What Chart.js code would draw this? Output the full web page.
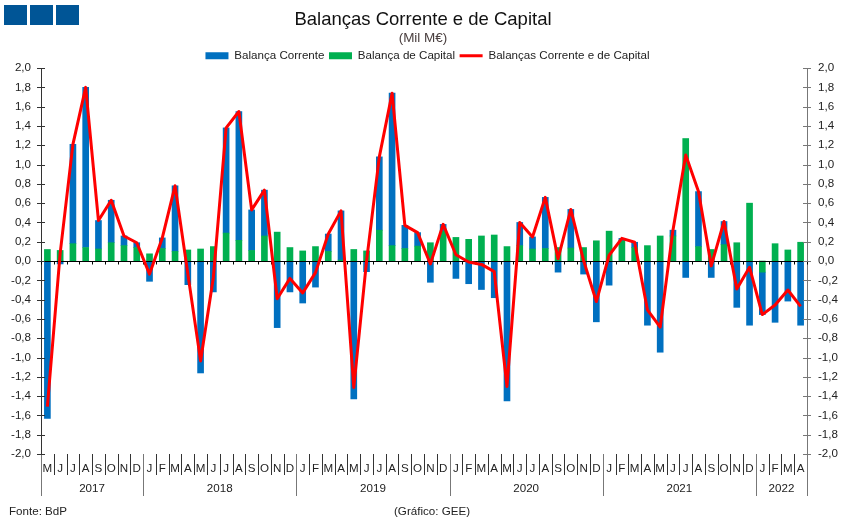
<!DOCTYPE html>
<html lang="pt">
<head>
<meta charset="utf-8">
<title>Balanças Corrente e de Capital</title>
<script src="https://cdn.jsdelivr.net/npm/chart.js@4"></script>
<style>
  html, body { margin: 0; padding: 0; background: #fff; }
  #wrap { position: relative; width: 851px; height: 526px; overflow: hidden; }
  .logo { position: absolute; top: 5px; width: 23px; height: 20px; background: #005596; }
  .note { position: absolute; top: 504px; font: 11.6px "Liberation Sans", Arial, sans-serif; color: #222; white-space: nowrap; }
</style>
</head>
<body>
<div id="wrap">
  <canvas id="chart" width="851" height="526"></canvas>
  <div class="logo" style="left:4px"></div>
  <div class="logo" style="left:30px"></div>
  <div class="logo" style="left:56px"></div>
  <div class="note" style="left:9px">Fonte:  BdP</div>
  <div class="note" style="left:394px">(Gráfico: GEE)</div>
</div>
<script>
const months = ['M','J','J','A','S','O','N','D',
  'J','F','M','A','M','J','J','A','S','O','N','D',
  'J','F','M','A','M','J','J','A','S','O','N','D',
  'J','F','M','A','M','J','J','A','S','O','N','D',
  'J','F','M','A','M','J','J','A','S','O','N','D',
  'J','F','M','A'];

const balancaCorrente = [-1.63,-0.03,1.03,1.66,0.295,0.44,0.10,0.05,
  -0.21,0.11,0.68,-0.245,-1.16,-0.32,1.09,1.335,0.42,0.475,-0.69,-0.32,
  -0.435,-0.27,0.18,0.51,-1.43,-0.11,0.76,1.58,0.24,0.14,-0.22,0.07,
  -0.18,-0.235,-0.295,-0.38,-1.45,0.24,0.125,0.53,-0.115,0.40,-0.135,-0.63,
  -0.25,0.025,0.055,-0.665,-0.945,0.06,-0.17,0.57,-0.17,0.24,-0.48,-0.665,
  -0.44,-0.635,-0.415,-0.665];

const balancaCapital = [0.12,0.11,0.18,0.14,0.125,0.19,0.16,0.14,
  0.075,0.13,0.10,0.115,0.125,0.15,0.29,0.215,0.11,0.26,0.30,0.14,
  0.105,0.15,0.10,0.01,0.12,0.105,0.32,0.16,0.13,0.155,0.19,0.31,
  0.245,0.225,0.26,0.27,0.15,0.16,0.125,0.13,0.14,0.135,0.14,0.21,
  0.31,0.21,0.14,0.16,0.26,0.26,1.27,0.15,0.12,0.17,0.19,0.60,
  -0.115,0.18,0.115,0.195];

const balancaTotal = [-1.51,0.08,1.21,1.80,0.42,0.63,0.26,0.19,
  -0.135,0.24,0.78,-0.13,-1.035,-0.17,1.38,1.55,0.53,0.735,-0.39,-0.18,
  -0.33,-0.12,0.28,0.52,-1.31,0.0,1.08,1.74,0.37,0.295,-0.03,0.38,
  0.065,-0.01,-0.035,-0.11,-1.30,0.40,0.25,0.66,0.025,0.535,0.005,-0.42,
  0.06,0.235,0.195,-0.505,-0.685,0.32,1.10,0.72,-0.05,0.41,-0.29,-0.065,
  -0.555,-0.455,-0.30,-0.47];

// year label, first month index, number of months
const years = ['2017','2018','2019','2020','2021','2022'];
const yearStart = [0,8,20,32,44,56];
const yearLength = [8,12,12,12,12,4];

const textColor = '#222';
const fontFamily = '"Liberation Sans", Arial, sans-serif';
const tickFont = { family: fontFamily, size: 11.6 };

function fmt(v) {
  return v.toFixed(1).replace('.', ',');
}

// Lines around the plot the library has no option for: crossing ticks,
// the zero line, month and year separators, year labels
const axisDecor = {
  id: 'axisDecor',
  afterLayout(chart) {
    // header is not quite centred in the original
    chart.boxes.forEach(box => {
      if (box.options && box.options.text) {
        const down = box.options.text === '(Mil M€)' ? 3.5 : 1.5;
        box.left -= 2.5;
        box.right -= 2.5;
        box.top += down;
        box.bottom += down;
      }
    });
    chart.legend.left += 2;
    chart.legend.right += 2;
    chart.legend.top += 3.5;
    chart.legend.bottom += 3.5;
  },
  beforeDatasetDraw(chart, args) {
    if (args.meta.type !== 'line') return;
    const { ctx, chartArea } = chart;
    const x = chart.scales.x;
    const y0 = Math.round(chart.scales.y.getPixelForValue(0)) + 0.5;
    ctx.save();
    ctx.strokeStyle = '#000';
    ctx.lineWidth = 1;
    ctx.beginPath();
    ctx.moveTo(chartArea.left - 4, y0);
    ctx.lineTo(chartArea.right + 4, y0);
    for (let i = 0; i <= months.length; i++) {
      const px = Math.round(x.getPixelForValue(i - 0.5)) + 0.5;
      ctx.moveTo(px, y0);
      ctx.lineTo(px, y0 + 3);
    }
    ctx.stroke();
    ctx.restore();
  },
  afterDraw(chart) {
    const { ctx, chartArea } = chart;
    const x = chart.scales.x;
    const bottom = chartArea.bottom;
    ctx.save();
    ctx.lineWidth = 1;

    ctx.strokeStyle = '#333';
    ctx.beginPath();
    for (let i = 0; i <= months.length; i++) {
      const px = Math.round(x.getPixelForValue(i - 0.5)) + 0.5;
      ctx.moveTo(px, bottom);
      ctx.lineTo(px, bottom + 21);
    }
    ctx.stroke();

    ctx.strokeStyle = '#777';
    ctx.beginPath();
    yearStart.forEach(s => {
      const px = Math.round(x.getPixelForValue(s - 0.5)) + 0.5;
      ctx.moveTo(px, bottom);
      ctx.lineTo(px, bottom + 42);
    });
    const end = Math.round(x.getPixelForValue(months.length - 0.5)) + 0.5;
    ctx.moveTo(end, bottom);
    ctx.lineTo(end, bottom + 42);
    ctx.stroke();

    ctx.fillStyle = textColor;
    ctx.font = '11.6px ' + fontFamily;
    ctx.textAlign = 'center';
    ctx.textBaseline = 'middle';
    years.forEach((label, i) => {
      const mid = yearStart[i] + yearLength[i] / 2 - 0.5;
      ctx.fillText(label, x.getPixelForValue(mid), bottom + 35);
    });

    // ticks crossing the two value axes
    [['y', chartArea.left, '#333'], ['y1', chartArea.right, '#777']].forEach(([id, ax, color]) => {
      const scale = chart.scales[id];
      ctx.strokeStyle = color;
      ctx.beginPath();
      scale.ticks.forEach(t => {
        const py = Math.round(scale.getPixelForValue(t.value)) + 0.5;
        ctx.moveTo(ax - 4, py);
        ctx.lineTo(ax + 4, py);
      });
      ctx.stroke();
    });
    ctx.restore();
  }
};

const valueAxis = (position, color, width) => ({
  type: 'linear',
  position,
  min: -2,
  max: 2,
  ticks: {
    stepSize: 0.2,
    color: textColor,
    font: tickFont,
    padding: position === 'left' ? 10 : 11,
    callback: v => fmt(v),
  },
  grid: { display: false, drawTicks: false },
  border: { display: true, color, width: 1 },
  afterFit(scale) { scale.width = width; },
});

new Chart(document.getElementById('chart'), {
  type: 'bar',
  data: {
    labels: months,
    datasets: [
      {
        label: 'Balança Corrente',
        data: balancaCorrente,
        backgroundColor: '#0070C0',
        stack: 'saldo',
        order: 2,
        yAxisID: 'y',
        barThickness: 6,
      },
      {
        label: 'Balança de Capital',
        data: balancaCapital,
        backgroundColor: '#00B050',
        stack: 'saldo',
        order: 1,
        yAxisID: 'y',
        barThickness: 6,
      },
      {
        type: 'line',
        label: 'Balanças Corrente e de Capital',
        data: balancaTotal,
        borderColor: '#FF0000',
        backgroundColor: '#FF0000',
        borderWidth: 3,
        borderJoinStyle: 'round',
        pointRadius: 0,
        tension: 0,
        order: 0,
        yAxisID: 'y',
      },
    ],
  },
  options: {
    responsive: false,
    animation: false,
    layout: { padding: 0 },
    scales: {
      x: {
        type: 'category',
        stacked: true,
        offset: true,
        ticks: {
          color: textColor,
          font: tickFont,
          autoSkip: false,
          maxRotation: 0,
          padding: 8,
        },
        grid: { display: false, drawTicks: false },
        border: { display: false },
        afterFit(scale) { scale.height = 72; },
      },
      y: Object.assign(valueAxis('left', '#333', 41), { stacked: true }),
      y1: valueAxis('right', '#777', 44),
    },
    plugins: {
      title: {
        display: true,
        text: 'Balanças Corrente e de Capital',
        color: '#111',
        font: { family: fontFamily, size: 18.5, weight: 'normal', lineHeight: 1 },
        padding: { top: 9, bottom: 1 },
      },
      subtitle: {
        display: true,
        text: '(Mil M€)',
        color: '#4a3f3f',
        font: { family: fontFamily, size: 13.5, weight: 'normal', lineHeight: 1 },
        padding: { top: 0, bottom: 0 },
      },
      legend: {
        display: true,
        position: 'top',
        labels: {
          color: textColor,
          font: tickFont,
          usePointStyle: true,
          pointStyleWidth: 23,
          boxHeight: 7,
          padding: 4.5,
          generateLabels(chart) {
            return chart.data.datasets.map((ds, i) => ({
              text: ds.label,
              datasetIndex: i,
              fillStyle: ds.backgroundColor,
              strokeStyle: ds.backgroundColor,
              lineWidth: ds.type === 'line' ? 3 : 0,
              fontColor: textColor,
              pointStyle: ds.type === 'line' ? 'line' : 'rect',
            }));
          },
        },
      },
      tooltip: { enabled: false },
    },
  },
  plugins: [axisDecor],
});
</script>
</body>
</html>
